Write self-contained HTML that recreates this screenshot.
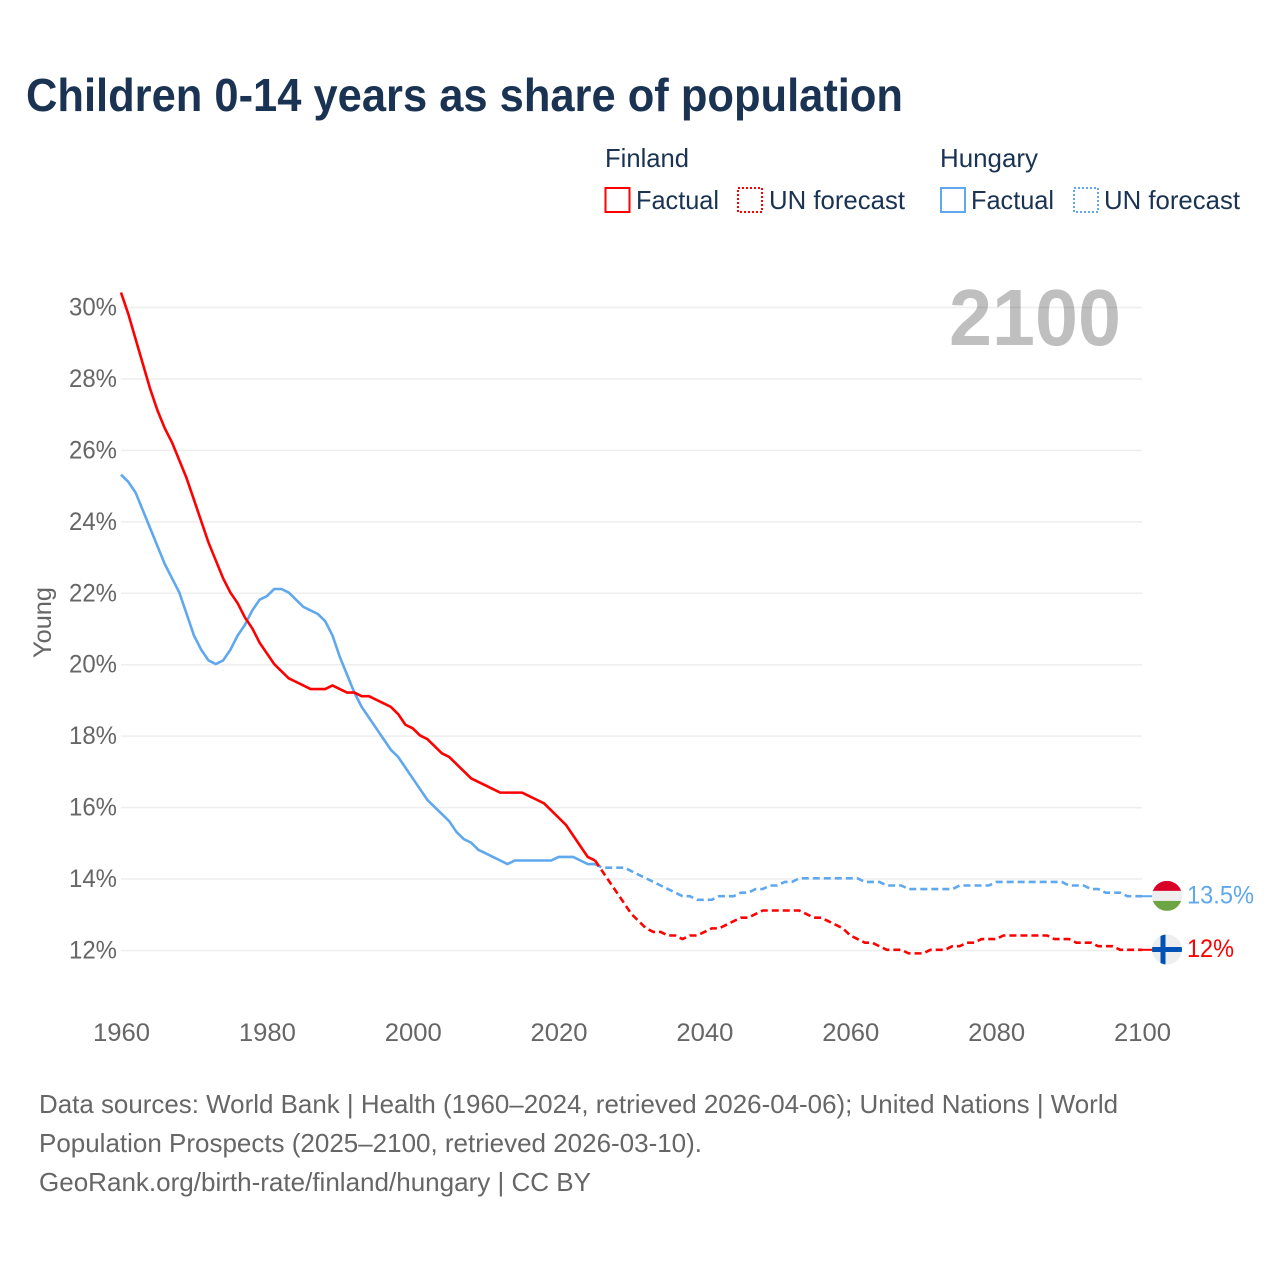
<!DOCTYPE html>
<html lang="en">
<head>
<meta charset="utf-8">
<title>Children 0-14 years as share of population</title>
<style>
html,body{margin:0;padding:0;background:#fff;width:1280px;height:1280px;overflow:hidden}
svg{display:block;font-family:"Liberation Sans",Arial,sans-serif}
</style>
</head>
<body>
<svg id="chart" xmlns="http://www.w3.org/2000/svg" width="1280" height="1280" viewBox="0 0 1280 1280">
  <text x="26" y="111" font-size="46" font-weight="700" fill="#1a3352" textLength="877" lengthAdjust="spacingAndGlyphs">Children 0-14 years as share of population</text>

  <g font-size="26" fill="#1a3352">
    <text x="605" y="167" textLength="84" lengthAdjust="spacingAndGlyphs">Finland</text>
    <text x="940" y="167" textLength="98" lengthAdjust="spacingAndGlyphs">Hungary</text>
    <rect x="605.5" y="188" width="24" height="24" fill="none" stroke="#ff0000" stroke-width="2"/>
    <text x="636" y="209" textLength="83" lengthAdjust="spacingAndGlyphs">Factual</text>
    <rect x="738" y="188" width="24" height="24" fill="none" stroke="#ff0000" stroke-width="2" stroke-dasharray="2 2"/>
    <text x="769" y="209" textLength="136" lengthAdjust="spacingAndGlyphs">UN forecast</text>
    <rect x="941" y="188" width="24" height="24" fill="none" stroke="#5fa8ee" stroke-width="2"/>
    <text x="971" y="209" textLength="83" lengthAdjust="spacingAndGlyphs">Factual</text>
    <rect x="1074" y="188" width="24" height="24" fill="none" stroke="#5fa8ee" stroke-width="2" stroke-dasharray="2 2"/>
    <text x="1104" y="209" textLength="136" lengthAdjust="spacingAndGlyphs">UN forecast</text>
  </g>

  <g id="grid"></g>
  <g id="yticks" font-size="25" fill="#666"></g>
  <g id="xticks" font-size="25" fill="#666"></g>
  <text transform="translate(51,622.5) rotate(-90)" text-anchor="middle" font-size="25" fill="#666" textLength="71" lengthAdjust="spacingAndGlyphs">Young</text>
  <text x="949" y="345" font-size="80" font-weight="700" fill="#000" fill-opacity="0.25" textLength="172" lengthAdjust="spacingAndGlyphs">2100</text>

  <g id="series"></g>

  <g id="flag-hungary"></g>
  <g id="flag-finland"></g>
  <text id="end-hungary" x="1187" font-size="25" fill="#5fa8ee" textLength="67" lengthAdjust="spacingAndGlyphs">13.5%</text>
  <text id="end-finland" x="1187" font-size="25" fill="#ff0000" textLength="47" lengthAdjust="spacingAndGlyphs">12%</text>

  <g font-size="26" fill="#666">
    <text x="39" y="1113" textLength="1079" lengthAdjust="spacingAndGlyphs">Data sources: World Bank | Health (1960–2024, retrieved 2026-04-06); United Nations | World</text>
    <text x="39" y="1152" textLength="663" lengthAdjust="spacingAndGlyphs">Population Prospects (2025–2100, retrieved 2026-03-10).</text>
    <text x="39" y="1191" textLength="552" lengthAdjust="spacingAndGlyphs">GeoRank.org/birth-rate/finland/hungary | CC BY</text>
  </g>
</svg>
<script>
const firstFactualYear = 1960;
const firstForecastYear = 2025;
const yTickValues = [12, 14, 16, 18, 20, 22, 24, 26, 28, 30];
const xTickValues = [1960, 1980, 2000, 2020, 2040, 2060, 2080, 2100];
const finlandFactual = [30.4,29.8,29.1,28.4,27.7,27.1,26.6,26.2,25.7,25.2,24.6,24.0,23.4,22.9,22.4,22.0,21.7,21.3,21.0,20.6,20.3,20.0,19.8,19.6,19.5,19.4,19.3,19.3,19.3,19.4,19.3,19.2,19.2,19.1,19.1,19.0,18.9,18.8,18.6,18.3,18.2,18.0,17.9,17.7,17.5,17.4,17.2,17.0,16.8,16.7,16.6,16.5,16.4,16.4,16.4,16.4,16.3,16.2,16.1,15.9,15.7,15.5,15.2,14.9,14.6,14.5];
const finlandForecast = [14.5,14.2,13.9,13.6,13.3,13.0,12.8,12.6,12.5,12.5,12.4,12.4,12.3,12.4,12.4,12.5,12.6,12.6,12.7,12.8,12.9,12.9,13.0,13.1,13.1,13.1,13.1,13.1,13.1,13.0,12.9,12.9,12.8,12.7,12.6,12.4,12.3,12.2,12.2,12.1,12.0,12.0,12.0,11.9,11.9,11.9,12.0,12.0,12.0,12.1,12.1,12.2,12.2,12.3,12.3,12.3,12.4,12.4,12.4,12.4,12.4,12.4,12.4,12.3,12.3,12.3,12.2,12.2,12.2,12.1,12.1,12.1,12.0,12.0,12.0,12.0];
const hungaryFactual = [25.3,25.1,24.8,24.3,23.8,23.3,22.8,22.4,22.0,21.4,20.8,20.4,20.1,20.0,20.1,20.4,20.8,21.1,21.5,21.8,21.9,22.1,22.1,22.0,21.8,21.6,21.5,21.4,21.2,20.8,20.2,19.7,19.2,18.8,18.5,18.2,17.9,17.6,17.4,17.1,16.8,16.5,16.2,16.0,15.8,15.6,15.3,15.1,15.0,14.8,14.7,14.6,14.5,14.4,14.5,14.5,14.5,14.5,14.5,14.5,14.6,14.6,14.6,14.5,14.4,14.4];
const hungaryForecast = [14.4,14.3,14.3,14.3,14.3,14.2,14.1,14.0,13.9,13.8,13.7,13.6,13.5,13.5,13.4,13.4,13.4,13.5,13.5,13.5,13.6,13.6,13.7,13.7,13.8,13.8,13.9,13.9,14.0,14.0,14.0,14.0,14.0,14.0,14.0,14.0,14.0,13.9,13.9,13.9,13.8,13.8,13.8,13.7,13.7,13.7,13.7,13.7,13.7,13.7,13.8,13.8,13.8,13.8,13.8,13.9,13.9,13.9,13.9,13.9,13.9,13.9,13.9,13.9,13.9,13.8,13.8,13.8,13.7,13.7,13.6,13.6,13.6,13.5,13.5,13.5];

const NS = 'http://www.w3.org/2000/svg';
const RED = '#ff0000';
const BLUE = '#5fa8ee';
function xScale(year) { return 121 + (year - 1960) * (1142 - 121) / 140; }
function yScale(v) { return 950.5 - (v - 12) * (950.5 - 307.5) / 18; }
function pathFrom(values, startYear) {
  return values.map(function (v, i) {
    return (i ? 'L' : 'M') + xScale(startYear + i).toFixed(2) + ' ' + (yScale(v) - 0.7).toFixed(2);
  }).join('');
}
function make(tag, parent) {
  const el = document.createElementNS(NS, tag);
  document.getElementById(parent).appendChild(el);
  return el;
}
yTickValues.forEach(function (v) {
  const line = make('line', 'grid');
  
  
  line.setAttribute('x1', 121);
  line.setAttribute('x2', 1142);
  line.setAttribute('y1', yScale(v));
  line.setAttribute('y2', yScale(v));
  line.setAttribute('stroke', '#eeeeee');
  line.setAttribute('stroke-width', 1.5);
  const t = make('text', 'yticks');
  
  
  t.setAttribute('x', 117);
  t.setAttribute('y', yScale(v) + 8);
  t.setAttribute('text-anchor', 'end');
  t.setAttribute('textLength', 48);
  t.setAttribute('lengthAdjust', 'spacingAndGlyphs');
  t.textContent = v + '%';
});
xTickValues.forEach(function (year) {
  const t = make('text', 'xticks');
  
  
  t.setAttribute('x', xScale(year) + 0.5);
  t.setAttribute('y', 1041);
  t.setAttribute('text-anchor', 'middle');
  t.setAttribute('textLength', 57);
  t.setAttribute('lengthAdjust', 'spacingAndGlyphs');
  t.textContent = year;
});
function addLine(name, values, startYear, color, dashed) {
  const p = make('path', 'series');
  
  
  p.setAttribute('d', pathFrom(values, startYear));
  p.setAttribute('fill', 'none');
  p.setAttribute('stroke', color);
  p.setAttribute('stroke-width', 2.6);
  p.setAttribute('stroke-linejoin', 'round');
  if (dashed) p.setAttribute('stroke-dasharray', '7 4');
}
addLine('line-hungary-factual', hungaryFactual, firstFactualYear, BLUE, false);
addLine('line-finland-factual', finlandFactual, firstFactualYear, RED, false);
addLine('line-hungary-forecast', hungaryForecast, firstForecastYear, BLUE, true);
addLine('line-finland-forecast', finlandForecast, firstForecastYear, RED, true);

function addConnector(name, value, color) {
  const c = make('line', 'series');
  
  
  c.setAttribute('x1', xScale(2100));
  c.setAttribute('x2', 1153);
  c.setAttribute('y1', yScale(value) - 0.7);
  c.setAttribute('y2', yScale(value) - 0.7);
  c.setAttribute('stroke', color);
  c.setAttribute('stroke-width', 2);
}
const lastHungary = hungaryForecast[hungaryForecast.length - 1];
const lastFinland = finlandForecast[finlandForecast.length - 1];
addConnector('connector-hungary', lastHungary, BLUE);
addConnector('connector-finland', lastFinland, RED);

const huY = yScale(lastHungary) - 1;
const fiY = yScale(lastFinland) - 1;
const cx = 1167;
const r = 15;
function addFlagPart(parent, name, tag, attrs) {
  const el = make(tag, parent);
  
  
  Object.keys(attrs).forEach(function (k) { el.setAttribute(k, attrs[k]); });
}
const defs = make('defs', 'flag-hungary');
const clipH = document.createElementNS(NS, 'clipPath');
clipH.setAttribute('id', 'clip-hu');
const clipHc = document.createElementNS(NS, 'circle');
clipHc.setAttribute('cx', cx); clipHc.setAttribute('cy', huY); clipHc.setAttribute('r', r);
clipH.appendChild(clipHc); defs.appendChild(clipH);
const clipF = document.createElementNS(NS, 'clipPath');
clipF.setAttribute('id', 'clip-fi');
const clipFc = document.createElementNS(NS, 'circle');
clipFc.setAttribute('cx', cx); clipFc.setAttribute('cy', fiY); clipFc.setAttribute('r', r);
clipF.appendChild(clipFc); defs.appendChild(clipF);
document.getElementById('flag-hungary').setAttribute('clip-path', 'url(#clip-hu)');
document.getElementById('flag-finland').setAttribute('clip-path', 'url(#clip-fi)');
addFlagPart('flag-hungary', 'flag-hungary-red', 'rect', {x: cx - r, y: huY - r, width: 2 * r, height: 10, fill: '#d80027'});
addFlagPart('flag-hungary', 'flag-hungary-white', 'rect', {x: cx - r, y: huY - r + 10, width: 2 * r, height: 10, fill: '#eeeeee'});
addFlagPart('flag-hungary', 'flag-hungary-green', 'rect', {x: cx - r, y: huY - r + 20, width: 2 * r, height: 10, fill: '#6da544'});
addFlagPart('flag-finland', 'flag-finland-field', 'rect', {x: cx - r, y: fiY - r, width: 2 * r, height: 2 * r, fill: '#eeeeee'});
addFlagPart('flag-finland', 'flag-finland-cross-v', 'rect', {x: cx - 6.5, y: fiY - r, width: 5, height: 2 * r, fill: '#0052b4'});
addFlagPart('flag-finland', 'flag-finland-cross-h', 'rect', {x: cx - r, y: fiY - 2.5, width: 2 * r, height: 5, fill: '#0052b4'});

document.getElementById('end-hungary').setAttribute('y', huY + 7.5);
document.getElementById('end-finland').setAttribute('y', fiY + 7.5);
</script>
</body>
</html>
